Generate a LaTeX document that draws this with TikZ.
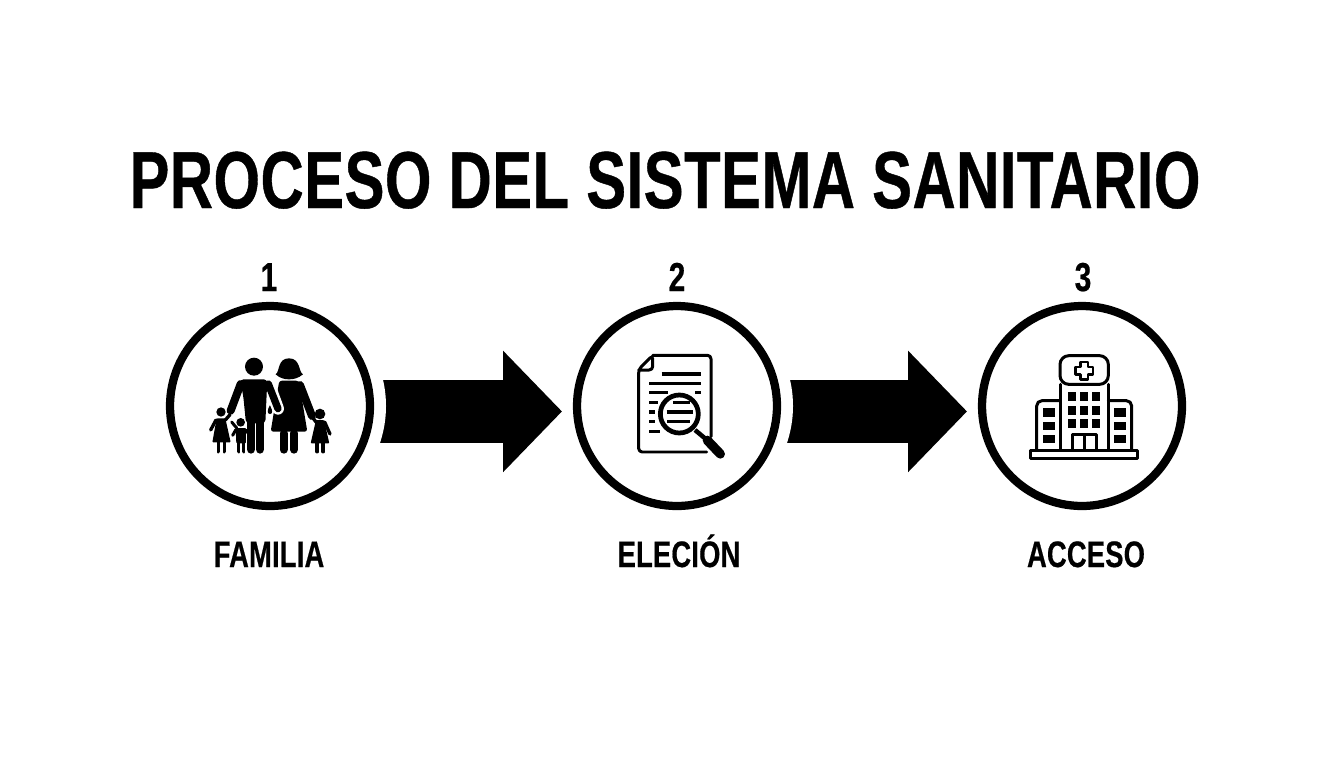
\documentclass[tikz,border=0pt]{standalone}
\usepackage{fontspec}
\usetikzlibrary{arrows.meta}
\newfontfamily\headfont[FakeStretch=.74,FakeBold=.5,LetterSpace=.6]{Liberation Sans}
\begin{document}
\begin{tikzpicture}[x=.02cm,y=-.02cm,
    ring/.style={circle,draw=black,line width=.165cm,minimum size=4cm,fill=white},
    bigarrow/.style={line width=1.26cm,-{Triangle[length=1.18cm,width=2.36cm]},shorten <=.08cm,shorten >=.22cm},
    steplabel/.style={font=\headfont\bfseries\fontsize{21}{24}\selectfont,anchor=base},
    stepnum/.style={font=\headfont\bfseries\fontsize{23}{26}\selectfont,anchor=base},
    lim/.style={line width=#1*.00667cm,line cap=round,line join=round},
    thin line/.style={line width=.06cm,line join=round,line cap=round}]
    \useasboundingbox (0,0) rectangle (1344,768);
    \node[font=\headfont\bfseries\fontsize{46}{50}\selectfont,anchor=base] (title) at (665,208) {PROCESO DEL SISTEMA SANITARIO};
    \node[ring] (fam) at (270,406) {};
    \node[ring] (ele) at (677,406) {};
    \node[ring] (acc) at (1082,406) {};
    \node[stepnum] (n1) at (269,291) {1};
    \node[stepnum] (n2) at (677,291) {2};
    \node[stepnum] (n3) at (1083,291) {3};
    \node[steplabel] (l1) at (269,567) {FAMILIA};
    \node[steplabel] (l2) at (679,567) {ELECIÓN};
    \node[steplabel] (l3) at (1086,567) {ACCESO};
    \draw[bigarrow] (fam.-3) -- (ele.183);
    \draw[bigarrow] (ele.-3) -- (acc.183);
    \draw[white,line width=.22cm] (fam.center) ++(-20:110.5) arc[start angle=-20,end angle=20,radius=110.5];
    \draw[white,line width=.22cm] (ele.center) ++(-20:110.5) arc[start angle=-20,end angle=20,radius=110.5];
    \begin{scope}[shift={(190,340)},scale=.3333]
        \fill (257,103) .. controls (270,95) and (262,55) .. (297,55) .. controls (332,55) and (325,95) .. (339,103) .. controls (325,115) and (310,118) .. (297,118) .. controls (284,118) and (270,115) .. (257,103) -- cycle;
        \fill[rounded corners=1.5pt] (268,122) -- (326,122) -- (338,190) -- (352,275) -- (242,275) -- (256,190) -- cycle;
        \draw[lim=24] (330,135) -- (366,228);
        \draw[lim=24] (281,280) -- (281,329);
        \draw[lim=24] (312,280) -- (312,329);
        \fill (240,195) .. controls (232,208) and (230,222) .. (240,222) .. controls (250,222) and (248,208) .. (240,195) -- cycle;
        \draw[white,lim=36] (238,135) -- (264,206);
        \fill (192,80) circle (27);
        \fill[rounded corners=2pt] (150,118) -- (232,118) -- (226,250) -- (168,250) -- (160,170) -- cycle;
        \draw[lim=24] (152,132) -- (122,212);
        \draw[lim=22] (235,132) -- (264,206);
        \draw[lim=26] (183,240) -- (183,328);
        \draw[lim=26] (210,240) -- (210,328);
        \draw[white,lim=34] (152,265) -- (152,335);
        \fill (93,216) circle (14);
        \fill[rounded corners=.5pt] (80,235) -- (106,235) -- (122,307) -- (67,307) -- cycle;
        \draw[lim=10] (78,240) -- (62,270);
        \draw[lim=10] (106,240) -- (120,224);
        \draw[lim=11] (85,307) -- (85,335);
        \draw[lim=11] (103,307) -- (103,335);
        \fill (152,247) circle (13);
        \fill[rounded corners=.5pt] (137,264) -- (168,264) -- (168,310) -- (139,310) -- cycle;
        \draw[lim=9] (137,270) -- (128,286);
        \draw[lim=9] (168,270) -- (184,294);
        \draw[lim=9] (125,246) -- (140,264);
        \draw[lim=11] (146,305) -- (146,335);
        \draw[lim=11] (161,305) -- (161,335);
        \fill (390,222) circle (16);
        \fill[rounded corners=.5pt] (378,240) -- (402,240) -- (418,310) -- (362,310) -- cycle;
        \draw[lim=10] (378,246) -- (366,230);
        \draw[lim=10] (404,246) -- (420,282);
        \draw[lim=11] (382,310) -- (382,335);
        \draw[lim=11] (400,310) -- (400,335);
    \end{scope}
    \begin{scope}[shift={(610,340)},scale=.3333]
        \draw[thin line,rounded corners=2pt] (128,46) -- (303,46) -- (303,290) (290,336) -- (86,336) -- (86,88) -- (128,46) -- (128,90) -- (86,90);
        \foreach \xa/\xb/\ya in {155/273/102,117/273/130,117/175/158,255/273/158,117/145/187,117/135/216,117/135/245,117/150/274} {
            \draw[line width=.065cm] (\xa,\ya) -- (\xb,\ya);
        }
        \draw[line width=.095cm,fill=white] (208,222) circle (57);
        \foreach \xa/\xb/\ya in {190/240/187,170/248/216,172/240/245} {
            \draw[line width=.065cm] (\xa,\ya) -- (\xb,\ya);
        }
        \draw[line width=.09cm] (255,270) -- (285,295);
        \draw[lim=28] (292,301) -- (331,342);
    \end{scope}
    \begin{scope}[shift={(1015,340)},scale=.3333]
        \draw[thin line,rounded corners=5pt,fill=white] (135,47) rectangle (280,133);
        \draw[thin line] (135,133) -- (135,330) (280,133) -- (280,330);
        \draw[line width=.055cm,line join=round] (197,66) -- (219,66) -- (219,81) -- (234,81) -- (234,103) -- (219,103) -- (219,118) -- (197,118) -- (197,103) -- (182,103) -- (182,81) -- (197,81) -- cycle;
        \foreach \xa in {160,196,232} {
            \foreach \ya in {155,197,237} {
                \fill (\xa,\ya) rectangle ++(22,28);
            }
        }
        \draw[thin line,rounded corners=3pt] (135,182) -- (65,182) -- (65,330);
        \draw[thin line,rounded corners=3pt] (280,182) -- (350,182) -- (350,330);
        \foreach \ya in {205,245,285} {
            \fill (83,\ya) rectangle ++(37,25);
            \fill (296,\ya) rectangle ++(36,25);
        }
        \draw[thin line] (172,330) -- (172,284) -- (245,284) -- (245,330) (208,284) -- (208,330);
        \draw[thin line] (47,332) rectangle (368,355);
    \end{scope}
\end{tikzpicture}
\end{document}
